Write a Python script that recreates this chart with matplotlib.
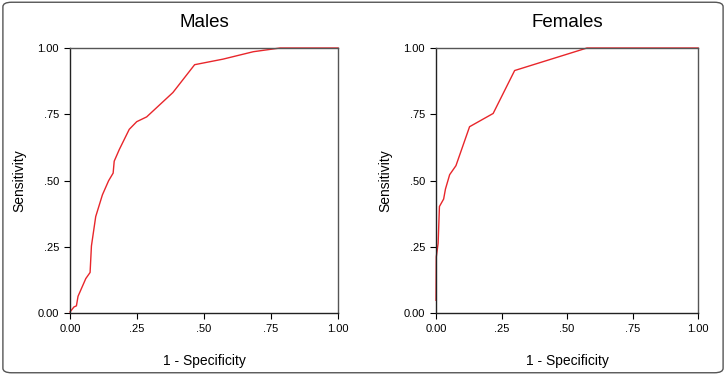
import matplotlib
matplotlib.use('Agg')
import matplotlib.pyplot as plt
from matplotlib.patches import FancyBboxPatch

plt.rcParams['font.family'] = ['Liberation Sans', 'DejaVu Sans']

# ROC curve for males
males_fpr = [0.0, 0.015, 0.024, 0.03, 0.059, 0.075, 0.08, 0.096, 0.121, 0.144, 0.161,
             0.165, 0.184, 0.221, 0.249, 0.286, 0.384, 0.465, 0.571, 0.684, 0.784, 1.0]
males_tpr = [0.004, 0.023, 0.027, 0.063, 0.13, 0.153, 0.253, 0.364, 0.446, 0.499, 0.528,
             0.573, 0.617, 0.693, 0.722, 0.740, 0.832, 0.937, 0.958, 0.986, 1.0, 1.0]

# ROC curve for females
females_fpr = [0.0, 0.001, 0.008, 0.013, 0.029, 0.036, 0.052, 0.076, 0.128, 0.218, 0.300, 0.576, 1.0]
females_tpr = [0.048, 0.212, 0.263, 0.402, 0.430, 0.468, 0.522, 0.556, 0.703, 0.753, 0.915, 1.0, 1.0]

ticks = [0.0, 0.25, 0.5, 0.75, 1.0]
tick_labels = ['0.00', '.25', '.50', '.75', '1.00']

fig = plt.figure(figsize=(7.26, 3.75), dpi=100)

# rounded frame around the whole figure
frame = FancyBboxPatch((0.004, 0.006), 0.992, 0.988, boxstyle='round,pad=0,rounding_size=0.012',
                       transform=fig.transFigure, fill=False, edgecolor='#555555', linewidth=1.0)
fig.patches.append(frame)

panels = [
    ([0.0964, 0.1653, 0.3692, 0.7067], 'Males', males_fpr, males_tpr),
    ([0.6006, 0.1653, 0.3609, 0.7067], 'Females', females_fpr, females_tpr),
]

for rect, title, x, y in panels:
    ax = fig.add_axes(rect)
    ax.plot(x, y, color='#e8262b', linewidth=1.0, clip_on=False)
    ax.set_xlim(0, 1)
    ax.set_ylim(0, 1)
    ax.set_xticks(ticks)
    ax.set_xticklabels(tick_labels)
    ax.set_yticks(ticks)
    ax.set_yticklabels(tick_labels)
    ax.tick_params(labelsize=8, length=4, width=0.8, direction='out', pad=4)
    ax.set_title(title, fontsize=13.5, pad=15)
    ax.set_xlabel('1 - Specificity', fontsize=10, labelpad=14)
    ax.set_ylabel('Sensitivity', fontsize=10, labelpad=8)
    for side in ['left', 'bottom']:
        ax.spines[side].set_color('#222222')
        ax.spines[side].set_linewidth(1.0)
    for side in ['top', 'right']:
        ax.spines[side].set_color('#555555')
        ax.spines[side].set_linewidth(1.0)

fig.savefig('out.png', dpi=100)
